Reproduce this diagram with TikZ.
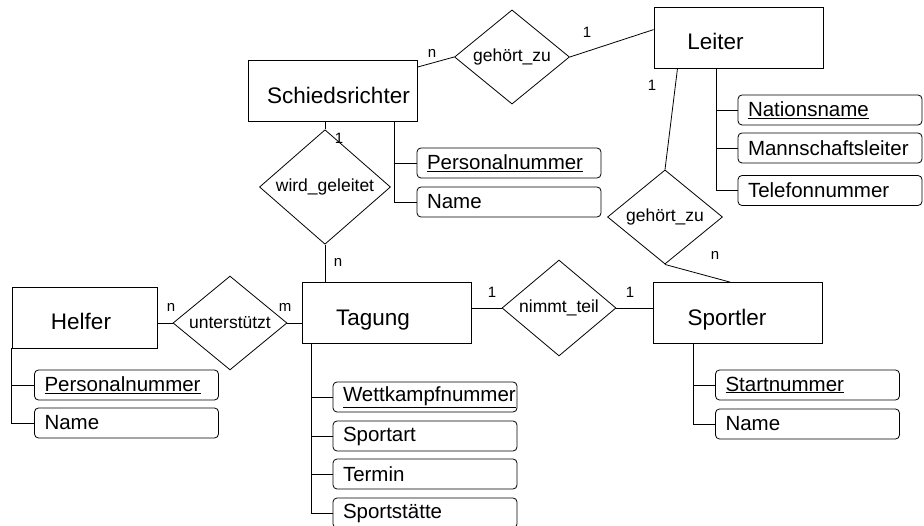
\documentclass[tikz,border=0pt]{standalone}
\usepackage{fontspec}
\setmainfont{Liberation Sans}
\usetikzlibrary{shapes.geometric}
\tikzset{
  entity/.style={draw, minimum width=169pt, minimum height=61pt, text height=29pt, text depth=4pt,
    font=\fontsize{22.5}{26}\selectfont},
  attr/.style={draw, rounded corners=4pt, minimum height=30pt, text width=164pt, inner xsep=10pt,
    align=left, font=\fontsize{20.5}{24}\selectfont},
  rel/.style={draw, diamond, minimum width=115pt, minimum height=84pt, inner sep=0pt,
    font=\fontsize{17.5}{20}\selectfont},
  card/.style={inner sep=0pt, font=\fontsize{15}{18}\selectfont},
}
\begin{document}
\begin{tikzpicture}[x=1pt, y=-1pt, line width=.8pt]
\useasboundingbox (0,0) rectangle (924,526);
% Entitaeten
\node[entity] (schied) at (332.5,91) {\hspace*{12pt}Schiedsrichter};
\node[entity] (leiter) at (738.5,37.5) {Leiter\hspace*{46pt}};
\node[entity, minimum width=145pt] (helfer) at (84.5,317.5) {Helfer\hspace*{7pt}};
\node[entity] (tagung) at (386.5,313) {Tagung\hspace*{27pt}};
\node[entity] (sportler) at (738,313) {Sportler\hspace*{22pt}};
% Beziehungen
\node[rel] (gz1) at (512,57) {gehört\_zu};
\node[rel, minimum height=82pt] (gz2) at (665,217) {gehört\_zu};
\node[rel, minimum width=131pt] (wg) at (325,187) {wird\_geleitet};
\node[rel, minimum width=114pt] (nt) at (559,308) {nimmt\_teil};
\node[rel, minimum width=114pt] (ut) at (230,323) {unterstützt};
% Attribute
\node[attr] (sr1) at (509,163) {\underline{Personalnummer}};
\node[attr] (sr2) at (509,202) {Name};
\node[attr] (le1) at (830,110) {\underline{Nationsname}};
\node[attr] (le2) at (830,148) {Mannschaftsleiter};
\node[attr] (le3) at (830,190.5) {Telefonnummer};
\node[attr] (sp1) at (807.5,385) {\underline{Startnummer}};
\node[attr] (sp2) at (807.5,424) {Name};
\node[attr] (ta1) at (425,397) {\underline{Wettkampfnummer}};
\node[attr] (ta2) at (425,436) {Sportart};
\node[attr] (ta3) at (425,474) {Termin};
\node[attr] (ta4) at (425,513) {Sportstätte};
\node[attr] (he1) at (126.5,385) {\underline{Personalnummer}};
\node[attr] (he2) at (126.5,423) {Name};
% Kardinalitaeten
\node[card] (c1) at (432,53) {n};
\node[card] (c2) at (587,32) {1};
\node[card] (c3) at (652,85) {1};
\node[card] (c4) at (715,255) {n};
\node[card] (c5) at (339,138) {1};
\node[card] (c6) at (338,262) {n};
\node[card] (c7) at (492,292) {1};
\node[card] (c8) at (630,292) {1};
\node[card] (c9) at (171,307) {n};
\node[card] (c10) at (285,307) {m};
% Verbindungen
\draw ([yshift=-7pt]schied.north east) -- (gz1.west);
\draw (gz1.east) -- ([yshift=-23pt]leiter.north west);
\draw ([xshift=-61pt]leiter.south) -- (gz2.north);
\draw (gz2.south) -- ([xshift=-8pt]sportler.north);
\draw (wg.north) -- (wg.north |- schied.south);
\draw (wg.south) -- (wg.south |- tagung.north);
\draw (nt.west) -- (nt.west -| tagung.east);
\draw (nt.east) -- (nt.east -| sportler.west);
\draw (ut.west) -- (ut.west -| helfer.east);
\draw (ut.east) -- (ut.east -| tagung.west);
% Attributlinien
\draw ([xshift=61.5pt]schied.south) |- (sr1.west) ([xshift=61.5pt]schied.south) |- (sr2.west);
\draw ([xshift=-22.5pt]leiter.south) |- (le1.west) ([xshift=-22.5pt]leiter.south) |- (le2.west)
  ([xshift=-22.5pt]leiter.south) |- (le3.west);
\draw ([xshift=-45pt]sportler.south) |- (sp1.west) ([xshift=-45pt]sportler.south) |- (sp2.west);
\draw ([xshift=-75.5pt]tagung.south) |- (ta1.west) ([xshift=-75.5pt]tagung.south) |- (ta2.west)
  ([xshift=-75.5pt]tagung.south) |- (ta3.west) ([xshift=-75.5pt]tagung.south) |- (ta4.west);
\draw (helfer.south west) |- (he1.west) (helfer.south west) |- (he2.west);
\end{tikzpicture}
\end{document}
